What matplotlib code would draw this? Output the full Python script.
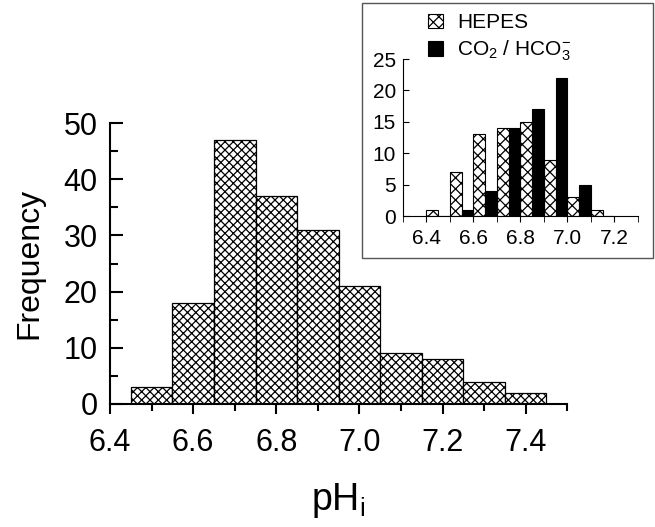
import matplotlib.pyplot as plt
from matplotlib.patches import Rectangle
from matplotlib.ticker import MultipleLocator

plt.rcParams['font.family'] = ['Liberation Sans', 'DejaVu Sans']
plt.rcParams['mathtext.fontset'] = 'custom'
plt.rcParams['mathtext.rm'] = 'Liberation Sans'
plt.rcParams['mathtext.it'] = 'Liberation Sans'
plt.rcParams['hatch.linewidth'] = 0.9

# main histogram: bin centres and counts
ph_merkez = [6.5, 6.6, 6.7, 6.8, 6.9, 7.0, 7.1, 7.2, 7.3, 7.4]
frekans = [3, 18, 47, 37, 31, 21, 9, 8, 4, 2]

# inset: left edge of each 0.1 bin
ic_kenar = [6.4, 6.5, 6.6, 6.7, 6.8, 6.9, 7.0, 7.1]
hepes = [1, 7, 13, 14, 15, 9, 3, 1]
co2 = [0, 1, 4, 14, 17, 22, 5, 0]

fig = plt.figure(figsize=(6.55, 5.27), dpi=100)

ax = fig.add_axes([0.168, 0.2334, 0.698, 0.5332])
ax.bar(ph_merkez, frekans, width=0.1, color='white', edgecolor='black',
       hatch='xxxx', linewidth=0.9)
ax.set_xlim(6.4, 7.5)
ax.set_ylim(0, 50)
ax.spines['top'].set_visible(False)
ax.spines['right'].set_visible(False)
ax.spines['left'].set_linewidth(1.5)
ax.spines['bottom'].set_linewidth(1.5)
ax.set_xticks([6.4, 6.6, 6.8, 7.0, 7.2, 7.4])
ax.set_xticklabels(['6.4', '6.6', '6.8', '7.0', '7.2', '7.4'])
ax.xaxis.set_minor_locator(MultipleLocator(0.1))
ax.set_yticks([0, 10, 20, 30, 40, 50])
ax.yaxis.set_minor_locator(MultipleLocator(5))
ax.tick_params(axis='x', which='major', direction='out', length=7.5, width=1.5,
               labelsize=22, pad=10)
ax.tick_params(axis='x', which='minor', direction='out', length=5, width=1.5)
ax.tick_params(axis='y', which='major', direction='in', length=9.5, width=1.5,
               labelsize=22, pad=9)
ax.tick_params(axis='y', which='minor', direction='in', length=5.5, width=1.5)
ax.set_ylabel('Frequency', fontsize=23, labelpad=14)
ax.set_xlabel(r'$\mathregular{pH_i}$', fontsize=27, labelpad=16)

# inset frame
fig.patches.append(Rectangle((0.553, 0.510), 0.444, 0.484, transform=fig.transFigure,
                             fill=False, edgecolor='#555555', linewidth=1.0))

ic = fig.add_axes([0.615, 0.590, 0.359, 0.298])
ic.bar(ic_kenar, hepes, width=0.05, align='edge', color='white', edgecolor='black',
       hatch='xxx', linewidth=0.8, label='HEPES')
ic.bar([k + 0.05 for k in ic_kenar], co2, width=0.05, align='edge', color='black',
       edgecolor='black', linewidth=0.8, label=r'CO$_2$ / HCO$_3^{-}$')
ic.set_xlim(6.3, 7.3)
ic.set_ylim(0, 25)
ic.spines['top'].set_visible(False)
ic.spines['right'].set_visible(False)
ic.set_xticks([6.4, 6.6, 6.8, 7.0, 7.2])
ic.set_xticklabels(['6.4', '6.6', '6.8', '7.0', '7.2'])
ic.xaxis.set_minor_locator(MultipleLocator(0.1))
ic.set_yticks([0, 5, 10, 15, 20, 25])
ic.tick_params(axis='x', which='both', direction='out', length=4, labelsize=15, pad=5)
ic.tick_params(axis='y', direction='in', length=4.5, labelsize=15, pad=5)
ic.legend(loc='upper left', bbox_to_anchor=(0.625, 1.01), bbox_transform=fig.transFigure,
          frameon=False, fontsize=15, handlelength=0.7, handleheight=0.7,
          handletextpad=0.7, labelspacing=0.3)

fig.savefig('out.png', dpi=100)
